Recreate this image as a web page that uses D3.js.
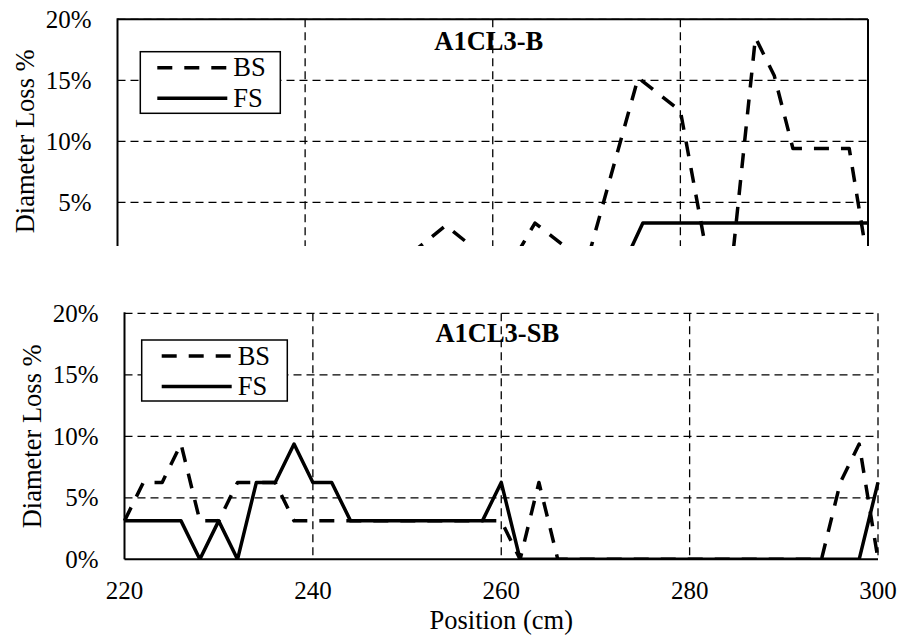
<!DOCTYPE html>
<html>
<head>
<meta charset="utf-8">
<script src="https://cdn.jsdelivr.net/npm/d3@7"></script>
<style>
  body { margin: 0; background: #fff; }
  svg { display: block; }
  svg text { font-family: "Times New Roman", "Liberation Serif", "DejaVu Serif", serif; }
</style>
</head>
<body>
<svg id="chart" width="901" height="637"></svg>
<script>
// A1CL3-B (upper panel), readings at the positions where the trace changes
const topPos   = [220, 250, 255, 260, 262, 264.5, 270, 275.5, 280, 283, 285.5, 288, 290, 292, 298, 300];
const topBS    = [0, 0, 3.1, 0, 0, 3.3, 0, 15.2, 12.5, 0, 0, 18.5, 15.4, 9.4, 9.4, 0];
const topFSPos = [220, 274, 276, 300];
const topFS    = [0, 0, 3.3, 3.3];

// A1CL3-SB (lower panel), every 2 cm
const botPos = [220, 222, 224, 226, 228, 230, 232, 234, 236, 238, 240, 242, 244, 246, 248, 250,
                252, 254, 256, 258, 260, 262, 264, 266, 268, 270, 272, 274, 276, 278, 280, 282,
                284, 286, 288, 290, 292, 294, 296, 298, 300];
const botBS  = [3.125, 6.25, 6.25, 9.375, 3.125, 3.125, 6.25, 6.25, 6.25, 3.125, 3.125, 3.125, 3.125,
                3.125, 3.125, 3.125, 3.125, 3.125, 3.125, 3.125, 3.125, 0, 6.25, 0, 0, 0, 0, 0, 0,
                0, 0, 0, 0, 0, 0, 0, 0, 0, 6.25, 9.375, 0];
const botFS  = [3.125, 3.125, 3.125, 3.125, 0, 3.125, 0, 6.25, 6.25, 9.375, 6.25, 6.25, 3.125,
                3.125, 3.125, 3.125, 3.125, 3.125, 3.125, 3.125, 6.25, 0, 0, 0, 0, 0, 0, 0, 0,
                0, 0, 0, 0, 0, 0, 0, 0, 0, 0, 0, 6.25];

const xTicks = [220, 240, 260, 280, 300];
const yTicks = [0, 5, 10, 15, 20];
const seriesNames = ["BS", "FS"];

const svg = d3.select("#chart");
const TICK_FONT = 25;
const LABEL_FONT = 26.5;
const SERIF = '"Times New Roman", "Liberation Serif", "DejaVu Serif", serif';
const DASH_BS = "15,12";
const DASH_GRID = "8,5";

// drawPanel — one Excel-style line chart. clipAt cuts the panel off
// below that pixel row (upper panel is partly covered in the figure).
function drawPanel(p) {
    const x = d3.scaleLinear().domain([220, 300]).range([p.left, p.right]);
    const y = d3.scaleLinear().domain([0, 20]).range([p.zero, p.top]);
    const bottom = p.clipAt ?? p.zero;
    const g = svg.append("g").attr("font-family", SERIF);

    const clipId = "clip-" + p.id;
    svg.append("clipPath").attr("id", clipId).append("rect")
        .attr("x", p.left - 4).attr("y", p.top - 4)
        .attr("width", p.right - p.left + 8).attr("height", bottom - p.top + 4);

    // gridlines
    const grid = g.append("g")
        .attr("stroke", "#000").attr("stroke-width", 1.3)
        .attr("stroke-dasharray", DASH_GRID).attr("fill", "none");
    yTicks.filter(t => t > 0 && y(t) < bottom).forEach(t => {
        grid.append("line").attr("x1", p.left).attr("x2", p.right)
            .attr("y1", y(t)).attr("y2", y(t));
    });
    xTicks.filter(t => t > 220).forEach(t => {
        grid.append("line").attr("x1", x(t)).attr("x2", x(t))
            .attr("y1", p.top).attr("y2", bottom);
    });

    // axes / frame
    const ax = g.append("g").attr("stroke", "#000").attr("stroke-width", 2).attr("fill", "none");
    ax.append("line").attr("x1", p.left).attr("x2", p.left).attr("y1", p.top - 1).attr("y2", bottom);
    if (!p.clipAt) {
        ax.append("line").attr("x1", p.left).attr("x2", p.right).attr("y1", p.zero).attr("y2", p.zero);
    }
    if (p.framed) {
        ax.append("line").attr("x1", p.left).attr("x2", p.right).attr("y1", p.top).attr("y2", p.top);
        ax.append("line").attr("x1", p.right).attr("x2", p.right).attr("y1", p.top).attr("y2", bottom);
    }

    // y tick labels
    g.append("g").selectAll("text")
        .data(yTicks.filter(t => y(t) <= bottom))
        .join("text")
        .attr("x", p.left - 26).attr("y", d => y(d))
        .attr("dy", "0.34em")
        .attr("text-anchor", "end")
        .attr("font-family", SERIF)
        .style("font-size", TICK_FONT + "px")
        .text(d => d + "%");

    if (p.showX) {
        g.append("g").selectAll("text")
            .data(xTicks).join("text")
            .attr("x", d => x(d)).attr("y", p.zero + 40)
            .attr("text-anchor", "middle")
            .attr("font-family", SERIF)
            .style("font-size", TICK_FONT + "px")
            .text(d => d);
        g.append("text")
            .attr("x", (p.left + p.right) / 2).attr("y", p.zero + 69.5)
            .attr("text-anchor", "middle")
            .attr("font-family", SERIF)
            .style("font-size", LABEL_FONT + "px")
            .text("Position (cm)");
    }

    // y axis title
    g.append("text")
        .attr("transform", `translate(${p.left - 84},${(p.top + p.zero) / 2}) rotate(-90)`)
        .attr("text-anchor", "middle")
        .attr("font-family", SERIF)
        .style("font-size", LABEL_FONT + "px")
        .text("Diameter Loss %");

    // data
    const line = d3.line().x(d => x(d[0])).y(d => y(d[1]));
    const plot = g.append("g").attr("clip-path", `url(#${clipId})`)
        .attr("fill", "none").attr("stroke", "#000").attr("stroke-width", 3.5)
        .attr("stroke-linejoin", "round");
    plot.append("path")
        .attr("d", line(p.bsPos.map((v, i) => [v, p.bs[i]])))
        .attr("stroke-dasharray", DASH_BS);
    plot.append("path")
        .attr("d", line(p.fsPos.map((v, i) => [v, p.fs[i]])));

    // panel title
    g.append("text")
        .attr("x", (p.left + p.right) / 2 - 4).attr("y", p.top + p.titleDy)
        .attr("text-anchor", "middle")
        .attr("font-family", SERIF)
        .style("font-size", LABEL_FONT + "px").style("font-weight", "bold")
        .text(p.title);

    // legend
    const L = p.legend;
    const lg = g.append("g");
    lg.append("rect")
        .attr("x", L.x).attr("y", L.y).attr("width", L.w).attr("height", L.h)
        .attr("fill", "#fff").attr("stroke", "#000").attr("stroke-width", 1.5);
    seriesNames.forEach((name, i) => {
        const ly = L.y + 16 + i * 30.5;
        lg.append("line")
            .attr("x1", L.x + L.sx).attr("x2", L.x + L.sx + 70)
            .attr("y1", ly).attr("y2", ly)
            .attr("stroke", "#000").attr("stroke-width", 3.5)
            .attr("stroke-dasharray", name === "BS" ? DASH_BS : null);
        lg.append("text")
            .attr("x", L.x + L.sx + 76).attr("y", ly + 8.5)
            .attr("font-family", SERIF)
            .style("font-size", LABEL_FONT + "px")
            .text(name);
    });
}

drawPanel({
    id: "b", title: "A1CL3-B",
    left: 117.5, right: 868, top: 19.3, zero: 263.3, clipAt: 246,
    framed: true, showX: false, titleDy: 31,
    bsPos: topPos, bs: topBS, fsPos: topFSPos, fs: topFS,
    legend: { x: 140.3, y: 51.7, w: 140, h: 61.6, sx: 17 }
});

drawPanel({
    id: "sb", title: "A1CL3-SB",
    left: 124.5, right: 878, top: 313.3, zero: 559.3,
    framed: false, showX: true, titleDy: 28.5,
    bsPos: botPos, bs: botBS, fsPos: botPos, fs: botFS,
    legend: { x: 141.7, y: 340, w: 145.6, h: 61, sx: 20 }
});
</script>
</body>
</html>
